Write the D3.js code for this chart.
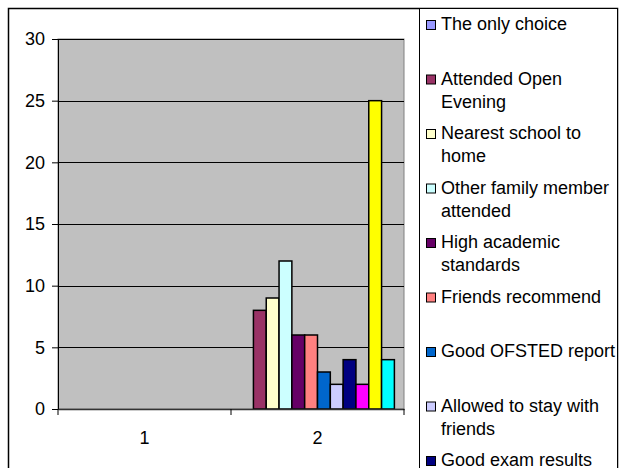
<!DOCTYPE html>
<html>
<head>
<meta charset="utf-8">
<script src="https://cdn.jsdelivr.net/npm/d3@7"></script>
<style>
html,body{margin:0;padding:0;background:#fff;}
svg{display:block;font-family:"Liberation Sans",Arial,sans-serif;}
</style>
</head>
<body>
<svg id="chart" width="622" height="468"></svg>
<script>
const categories = ["1", "2"];
const seriesNames = [
  "The only choice",
  "Attended Open Evening",
  "Nearest school to home",
  "Other family member attended",
  "High academic standards",
  "Friends recommend",
  "Good OFSTED report",
  "Allowed to stay with friends",
  "Good exam results",
  "Other reason A",
  "Other reason B",
  "Other reason C"
];
const valuesCat1 = [0,0,0,0,0,0,0,0,0,0,0,0];
const valuesCat2 = [0,8,9,12,6,6,3,2,4,2,25,4];
const seriesColors = ["#9999FF","#993366","#FFFFCC","#CCFFFF","#660066","#FF8080","#0066CC","#CCCCFF","#000080","#FF00FF","#FFFF00","#00FFFF"];
const legendLines = [
  ["The only choice"],
  ["Attended Open","Evening"],
  ["Nearest school to","home"],
  ["Other family member","attended"],
  ["High academic","standards"],
  ["Friends recommend"],
  ["Good OFSTED report"],
  ["Allowed to stay with","friends"],
  ["Good exam results"],
  ["Other reason A"],
  ["Other reason B"],
  ["Other reason C"]
];
const yTicks = [0,5,10,15,20,25,30];

const svg = d3.select("#chart");
const plot = {left:58, top:39, right:404, bottom:409};

// outer chart border
svg.append("rect").attr("x",8.5).attr("y",8.5).attr("width",609).attr("height",480)
  .attr("fill","#fff").attr("stroke","#000").attr("stroke-width",1.5);

const x0 = d3.scaleBand().domain(categories).range([plot.left, plot.right]).paddingInner(0).paddingOuter(0);
const n = seriesNames.length;
const barW = x0.bandwidth() / (n + 1.5);
const x1 = d3.scaleBand().domain(d3.range(n))
  .range([barW*0.75, x0.bandwidth() - barW*0.75]).padding(0);
const y = d3.scaleLinear().domain([0,30]).range([plot.bottom, plot.top]);

// plot area
svg.append("rect").attr("x",plot.left).attr("y",plot.top)
  .attr("width",plot.right-plot.left).attr("height",plot.bottom-plot.top)
  .attr("fill","#C0C0C0").attr("stroke","#808080").attr("stroke-width",1);

// gridlines
svg.append("g").selectAll("line").data(yTicks.filter(t=>t>0)).join("line")
  .attr("x1",plot.left).attr("x2",plot.right)
  .attr("y1",d=>Math.round(y(d))+0.5).attr("y2",d=>Math.round(y(d))+0.5)
  .attr("stroke","#000").attr("stroke-width",1);

// bars
const dataRows = [valuesCat1, valuesCat2];
const bars = [];
categories.forEach((c,ci)=>{
  dataRows[ci].forEach((v,si)=>{ if(v>0) bars.push({c, si, v}); });
});
svg.append("g").selectAll("rect").data(bars).join("rect")
  .attr("x",d=>x0(d.c)+x1(d.si))
  .attr("width",x1.bandwidth())
  .attr("y",d=>y(d.v))
  .attr("height",d=>y(0)-y(d.v))
  .attr("fill",d=>seriesColors[d.si])
  .attr("stroke","#000").attr("stroke-width",1.5);

// y axis
const yAxis = d3.axisLeft(y).tickValues(yTicks).tickSize(6).tickPadding(7);
const gy = svg.append("g").attr("transform",`translate(${plot.left},0)`).call(yAxis);
gy.select(".domain").attr("stroke","#000");
gy.selectAll(".tick line").attr("stroke","#000");
gy.selectAll("text").attr("font-size",18).attr("fill","#000")
  .attr("font-family","'Liberation Sans',Arial,sans-serif");

// x axis
const xAxis = d3.axisBottom(x0).tickSize(0).tickPadding(22);
const gx = svg.append("g").attr("transform",`translate(0,${plot.bottom})`).call(xAxis);
gx.select(".domain").attr("stroke","#333").attr("stroke-width",1.5);
gx.selectAll("text").attr("font-size",18).attr("fill","#000")
  .attr("font-family","'Liberation Sans',Arial,sans-serif");
const bounds = categories.map(c=>x0(c)).concat([plot.right]);
gx.selectAll(".bound").data(bounds).join("line").attr("class","bound")
  .attr("x1",d=>d).attr("x2",d=>d).attr("y1",0).attr("y2",6)
  .attr("stroke","#000");

// legend
svg.append("rect").attr("x",419.5).attr("y",8.5).attr("width",198).attr("height",480)
  .attr("fill","#fff").attr("stroke","#000").attr("stroke-width",1);
const lg = svg.append("g");
const items = lg.selectAll("g").data(seriesNames).join("g")
  .attr("transform",(d,i)=>`translate(426,${30 + i*54.5})`);
items.append("rect").attr("x",0.5).attr("y",-9.5).attr("width",9).attr("height",9)
  .attr("fill",(d,i)=>seriesColors[i]).attr("stroke","#000").attr("stroke-width",1);
items.each(function(d,i){
  const t = d3.select(this).append("text").attr("x",15).attr("y",0)
    .attr("font-size",18).attr("fill","#000");
  legendLines[i].forEach((ln,li)=>{
    t.append("tspan").attr("x",15).attr("dy", li===0?0:23.4).text(ln);
  });
});
</script>
</body>
</html>
